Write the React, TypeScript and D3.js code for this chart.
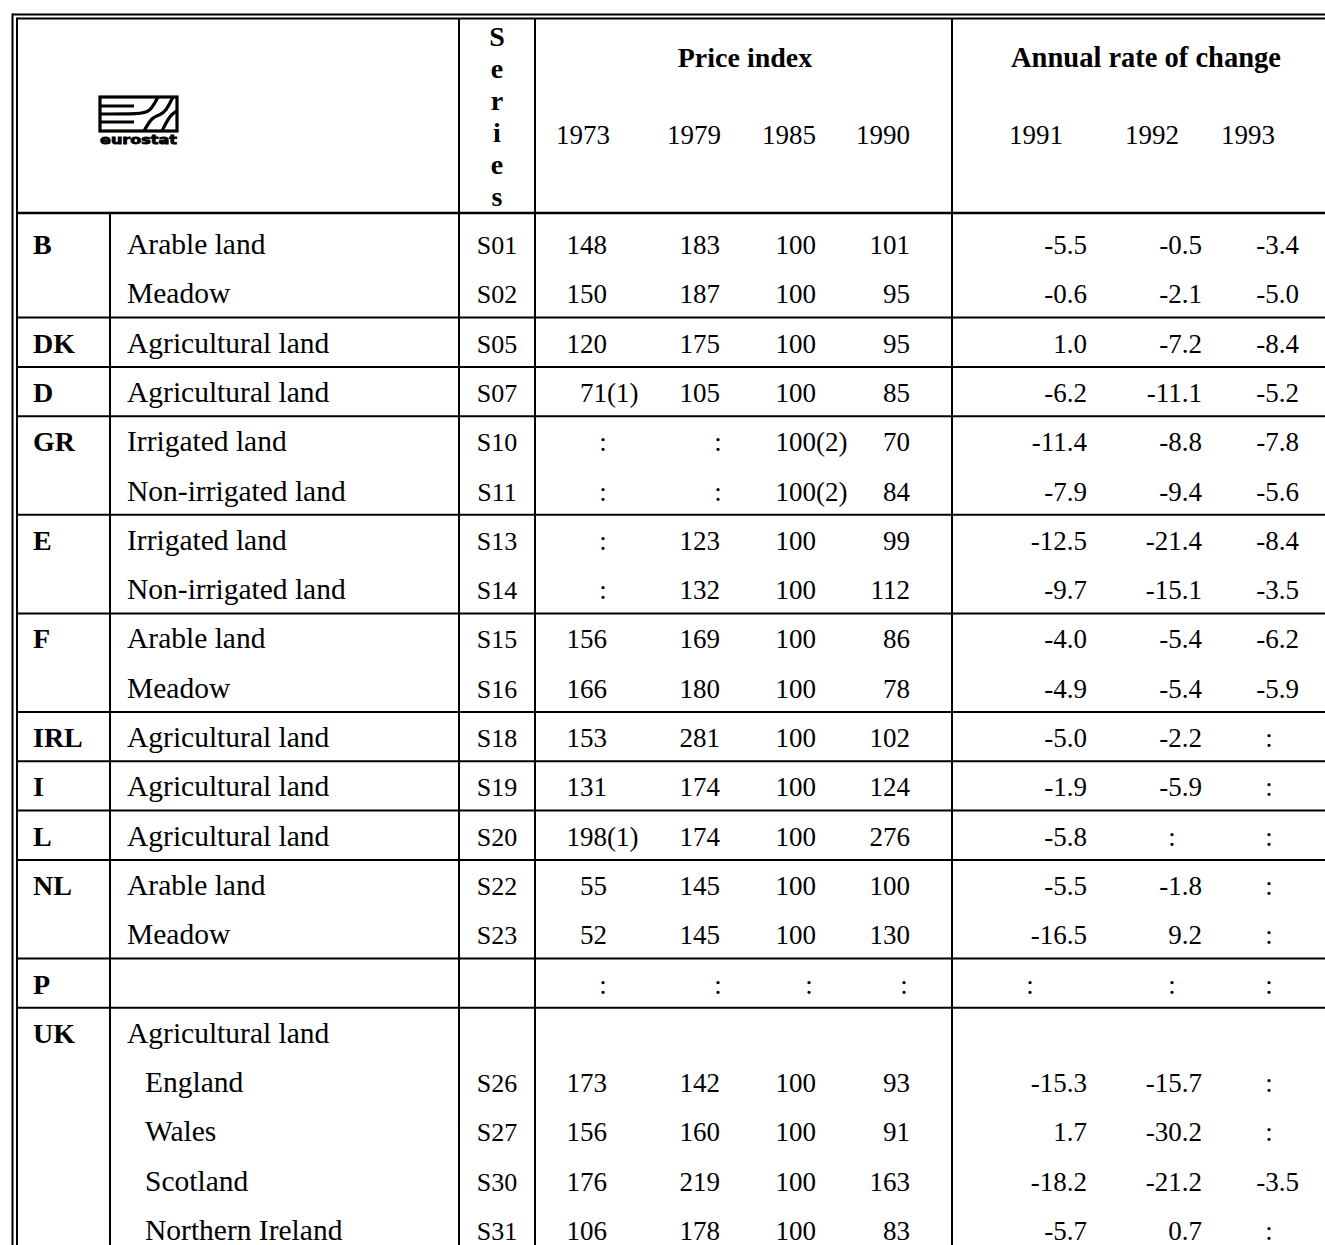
import React from "react";
import * as d3 from "d3";

// ---------- data ----------
const countries = ["B", "", "DK", "D", "GR", "", "E", "", "F", "", "IRL", "I", "L", "NL", "", "P", "UK", "", "", "", ""];
const descriptions = [
  "Arable land", "Meadow", "Agricultural land", "Agricultural land", "Irrigated land", "Non-irrigated land",
  "Irrigated land", "Non-irrigated land", "Arable land", "Meadow", "Agricultural land", "Agricultural land",
  "Agricultural land", "Arable land", "Meadow", "", "Agricultural land", "England", "Wales", "Scotland", "Northern Ireland",
];
const subRegion = [false, false, false, false, false, false, false, false, false, false, false, false, false, false, false, false, false, true, true, true, true];
const seriesCodes = ["S01", "S02", "S05", "S07", "S10", "S11", "S13", "S14", "S15", "S16", "S18", "S19", "S20", "S22", "S23", "", "", "S26", "S27", "S30", "S31"];
const groupStarts = [0, 2, 3, 4, 6, 8, 10, 11, 12, 13, 15, 16];

const priceYears = ["1973", "1979", "1985", "1990"];
const changeYears = ["1991", "1992", "1993"];

// null = ":" (not available), undefined = empty cell
const idx1973 = [148, 150, 120, 71, null, null, null, null, 156, 166, 153, 131, 198, 55, 52, null, undefined, 173, 156, 176, 106];
const idx1979 = [183, 187, 175, 105, null, null, 123, 132, 169, 180, 281, 174, 174, 145, 145, null, undefined, 142, 160, 219, 178];
const idx1985 = [100, 100, 100, 100, 100, 100, 100, 100, 100, 100, 100, 100, 100, 100, 100, null, undefined, 100, 100, 100, 100];
const idx1990 = [101, 95, 95, 85, 70, 84, 99, 112, 86, 78, 102, 124, 276, 100, 130, null, undefined, 93, 91, 163, 83];
const chg1991 = [-5.5, -0.6, 1.0, -6.2, -11.4, -7.9, -12.5, -9.7, -4.0, -4.9, -5.0, -1.9, -5.8, -5.5, -16.5, null, undefined, -15.3, 1.7, -18.2, -5.7];
const chg1992 = [-0.5, -2.1, -7.2, -11.1, -8.8, -9.4, -21.4, -15.1, -5.4, -5.4, -2.2, -5.9, null, -1.8, 9.2, null, undefined, -15.7, -30.2, -21.2, 0.7];
const chg1993 = [-3.4, -5.0, -8.4, -5.2, -7.8, -5.6, -8.4, -3.5, -6.2, -5.9, null, null, null, null, null, null, undefined, null, null, -3.5, null];
const notes1973 = ["", "", "", "(1)", "", "", "", "", "", "", "", "", "(1)", "", "", "", "", "", "", "", ""];
const notes1985 = ["", "", "", "", "(2)", "(2)", "", "", "", "", "", "", "", "", "", "", "", "", "", "", ""];
const noNotes = countries.map(() => "");

const seriesLetters = ["S", "e", "r", "i", "e", "s"];

// ---------- layout ----------
const W = 1325;
const H = 1245;
const FONT = "'Liberation Serif', 'Times New Roman', serif";
const nRows = countries.length;
const rowCenter = d3.scaleLinear().domain([0, nRows - 1]).range([245, 1231]);
const lineY = (k: number) => rowCenter(k) - 26;

const loc = d3.formatLocale({ decimal: ".", thousands: ",", grouping: [3], currency: ["", ""], minus: "-" });
const fmtInt = loc.format("d");
const fmtDec = loc.format(".1f");

const colX = { left1: 12.5, left2: 17, country: 110, series: 459, data: 535, change: 952 };

const valueColumns = [
  { values: idx1973, notes: notes1973, fmt: fmtInt, right: 607, colon: 603, head: 583, year: priceYears[0] },
  { values: idx1979, notes: noNotes, fmt: fmtInt, right: 720, colon: 718, head: 694, year: priceYears[1] },
  { values: idx1985, notes: notes1985, fmt: fmtInt, right: 816, colon: 809, head: 789, year: priceYears[2] },
  { values: idx1990, notes: noNotes, fmt: fmtInt, right: 910, colon: 904, head: 883, year: priceYears[3] },
  { values: chg1991, notes: noNotes, fmt: fmtDec, right: 1087, colon: 1030, head: 1036, year: changeYears[0] },
  { values: chg1992, notes: noNotes, fmt: fmtDec, right: 1202, colon: 1172, head: 1152, year: changeYears[1] },
  { values: chg1993, notes: noNotes, fmt: fmtDec, right: 1299, colon: 1269, head: 1248, year: changeYears[2] },
];

function Logo() {
  const x0 = 100, y0 = 97, w = 77, h = 34;
  const stroke = { stroke: "#000", strokeWidth: 3.2, fill: "none" };
  const diag = d3.line().curve(d3.curveBasis);
  return (
    <g>
      <rect x={x0} y={y0} width={w} height={h} {...stroke} />
      <line x1={x0} x2={x0 + 34} y1={y0 + 9} y2={y0 + 9} {...stroke} />
      <path d={diag([[x0, y0 + 17], [x0 + 40, y0 + 17], [x0 + 50, y0 + 15], [x0 + 58, y0]]) || ""} {...stroke} />
      <line x1={x0} x2={x0 + 34} y1={y0 + 25} y2={y0 + 25} {...stroke} />
      <path d={diag([[x0 + 44, y0 + h], [x0 + 52, y0 + 20], [x0 + 60, y0 + 18], [x0 + 66, y0 + 14], [x0 + 73, y0]]) || ""} {...stroke} />
      <path d={diag([[x0 + 62, y0 + h], [x0 + 70, y0 + 18], [x0 + 77, y0 + 14]]) || ""} {...stroke} />
      <text x={x0} y={y0 + h + 13} fontFamily="'DejaVu Sans', sans-serif" fontWeight="bold" fontSize={12}
        stroke="#000" strokeWidth={0.8}
        textLength={w} lengthAdjust="spacingAndGlyphs">eurostat</text>
    </g>
  );
}

export default function App() {
  const groupLines = groupStarts.filter((k) => k > 0).map(lineY);
  const fs = 27;
  return (
    <svg width={W} height={H} style={{ position: "absolute", left: 0, top: 0, background: "#fff" }}
      fontFamily={FONT}>
      <rect x={0} y={0} width={W} height={H} fill="#fff" />
      {/* outer double frame */}
      <line x1={colX.left1} x2={W} y1={14.5} y2={14.5} stroke="#000" strokeWidth={2} />
      <line x1={colX.left2} x2={W} y1={18.5} y2={18.5} stroke="#000" strokeWidth={2} />
      <line x1={colX.left1} x2={colX.left1} y1={13.5} y2={H} stroke="#000" strokeWidth={2} />
      <line x1={colX.left2} x2={colX.left2} y1={17.5} y2={H} stroke="#000" strokeWidth={2} />
      {/* header bottom */}
      <line x1={colX.left2} x2={W} y1={213} y2={213} stroke="#000" strokeWidth={2.5} />
      {/* group separators */}
      {groupLines.map((y, i) => (
        <line key={i} x1={colX.left2} x2={W} y1={y} y2={y} stroke="#000" strokeWidth={2} />
      ))}
      {/* vertical rules */}
      <line x1={colX.country} x2={colX.country} y1={213} y2={H} stroke="#000" strokeWidth={2} />
      <line x1={colX.series} x2={colX.series} y1={18} y2={H} stroke="#000" strokeWidth={2} />
      <line x1={colX.data} x2={colX.data} y1={18} y2={H} stroke="#000" strokeWidth={2} />
      <line x1={colX.change} x2={colX.change} y1={18} y2={H} stroke="#000" strokeWidth={2} />

      <Logo />

      {/* header */}
      {seriesLetters.map((c, i) => (
        <text key={i} x={497} y={46 + i * 32} textAnchor="middle" fontWeight="bold" fontSize={28}>{c}</text>
      ))}
      <text x={745} y={67} textAnchor="middle" fontWeight="bold" fontSize={28}>Price index</text>
      <text x={1146} y={67} textAnchor="middle" fontWeight="bold" fontSize={28.5}>Annual rate of change</text>
      {valueColumns.map((c, i) => (
        <text key={i} x={c.head} y={144} textAnchor="middle" fontSize={fs}>{c.year}</text>
      ))}

      {/* body */}
      {countries.map((c, i) => {
        const yb = rowCenter(i) + 9;
        return (
          <g key={i}>
            {c && <text x={33} y={yb} fontWeight="bold" fontSize={28}>{c}</text>}
            {descriptions[i] && (
              <text x={subRegion[i] ? 145 : 127} y={yb} fontSize={29.5}>{descriptions[i]}</text>
            )}
            {seriesCodes[i] && <text x={497} y={yb} textAnchor="middle" fontSize={26}>{seriesCodes[i]}</text>}
            {valueColumns.map((col, j) => {
              const v = col.values[i];
              if (v === undefined) return null;
              if (v === null) {
                return <text key={j} x={col.colon} y={yb} textAnchor="middle" fontSize={fs}>:</text>;
              }
              return (
                <g key={j}>
                  <text x={col.right} y={yb} textAnchor="end" fontSize={fs}>{col.fmt(v)}</text>
                  {col.notes[i] && <text x={col.right} y={yb} fontSize={fs}>{col.notes[i]}</text>}
                </g>
              );
            })}
          </g>
        );
      })}
    </svg>
  );
}
